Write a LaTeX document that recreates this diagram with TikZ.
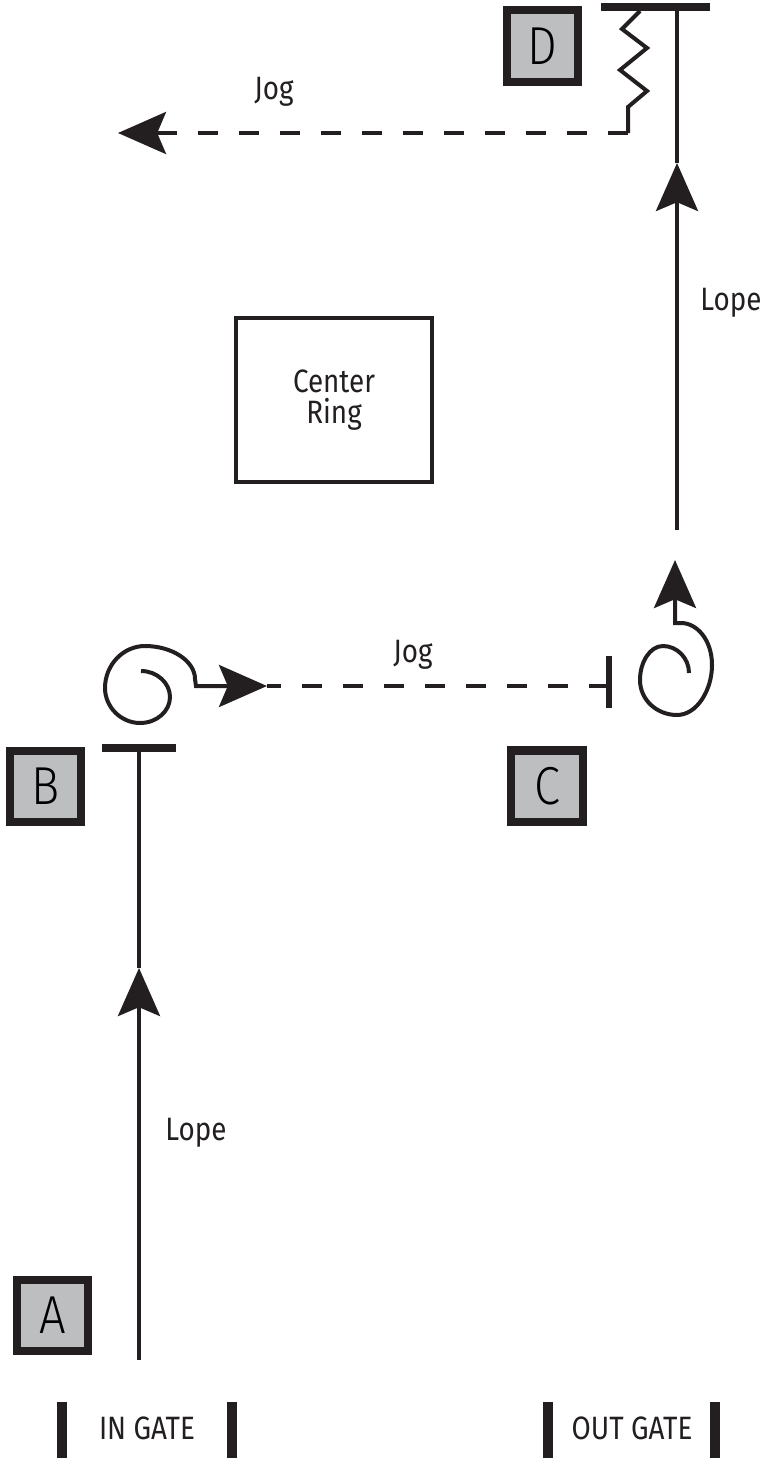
\documentclass[tikz,border=0pt]{standalone}
\usepackage{fontspec}
\setmainfont{Fira Sans}[UprightFont=* Light, FakeStretch=0.88]
\newfontfamily\labelfont{Fira Sans}[FakeStretch=0.86]
\usetikzlibrary{arrows.meta}
\definecolor{ink}{HTML}{231F20}
\definecolor{boxgray}{HTML}{BCBEC0}

\tikzset{
  route/.style={ink, line width=1mm},
  jog/.style={route, dash pattern=on 5mm off 5.25mm},
  gaitarrow/.style={-{Stealth[length=12mm,width=10.5mm,inset=2.2mm]}},
  stopbar/.style={ink, line width=2mm},
  gatebar/.style={ink, line width=2.5mm},
  letterbox/.style={draw=ink, fill=boxgray, line width=2mm, minimum size=17.75mm,
    inner sep=0pt, font=\fontsize{38}{38}\selectfont},
  lbl/.style={ink, font=\labelfont\fontsize{23}{22.5}\selectfont, align=center}
}

\begin{document}
\begin{tikzpicture}[x=0.025cm, y=-0.025cm]
  \useasboundingbox (0,0) rectangle (763,1459);

  % letter markers and the centre ring
  \node[letterbox] (boxD) at (542.5,46) {D};
  \node[letterbox] (boxB) at (45.5,786.5) {B};
  \node[letterbox] (boxC) at (547,786) {C};
  \node[letterbox] (boxA) at (52.5,1315) {A};
  \node[draw=ink, line width=1.1mm, minimum width=4.89cm, minimum height=4.09cm, lbl]
    (ring) at (334,400) {Center\\Ring};

  % A -> B, lope
  \coordinate (aStart) at (139,1360);
  \coordinate (aTip) at (139,968);
  \coordinate (bStop) at (139,748);
  \draw[route,gaitarrow] (aStart) -- (aTip);
  \draw[route] (aTip) -- (bStop);
  \draw[stopbar] (102,748) -- (176,748);
  \node[lbl] (lopeA) at (196,1133) {Lope};

  % spin at B, then jog to C
  \coordinate (bTip) at (267,686);
  \coordinate (cStop) at (609,686);
  \draw[route,gaitarrow] (141,671) .. controls (157,671) and (170,683) .. (170,697)
    .. controls (170,711) and (157,723) .. (140,723)
    .. controls (121,723) and (105,707) .. (105,688)
    .. controls (105,665) and (123,646) .. (145,646)
    .. controls (172,646) and (195,661) .. (195,679) -- (196,686) -- (bTip);
  \draw[jog] (cStop) -- (bTip);
  \draw[stopbar, line width=1.5mm] (609,656) -- (609,708);
  \node[lbl] (jogB) at (413,655) {Jog};

  % spin at C
  \coordinate (cTip) at (675,560);
  \draw[route,gaitarrow] (689,673) .. controls (689,658) and (677,646) .. (663,646)
    .. controls (650,646) and (640,662) .. (640,680)
    .. controls (640,700) and (657,715) .. (677,715)
    .. controls (697,715) and (712,690) .. (712,665)
    .. controls (712,640) and (697,623) .. (681,623) -- (675,623) -- (cTip);

  % C -> D, lope
  \coordinate (dStart) at (677,530);
  \coordinate (dTip) at (677,163);
  \coordinate (dStop) at (677,7);
  \draw[route,gaitarrow] (dStart) -- (dTip);
  \draw[route] (dTip) -- (dStop);
  \draw[stopbar] (601,7) -- (710,7);
  \node[lbl] (lopeD) at (731,303) {Lope};

  % back up at D, then jog off
  \coordinate (dTurn) at (628,133);
  \coordinate (jogEnd) at (118,133);
  \draw[route] (640,11) -- (622,29) -- (647,48) -- (620,70) -- (647,91) -- (628,107) -- (dTurn);
  \draw[jog,gaitarrow] (dTurn) -- (jogEnd);
  \node[lbl] (jogD) at (274,92) {Jog};

  % gates
  \foreach \x in {62,232,548,715}
    \draw[gatebar] (\x,1402) -- (\x,1458);
  \node[lbl] (inGate) at (147,1428) {IN GATE};
  \node[lbl] (outGate) at (632,1428) {OUT GATE};
\end{tikzpicture}
\end{document}
